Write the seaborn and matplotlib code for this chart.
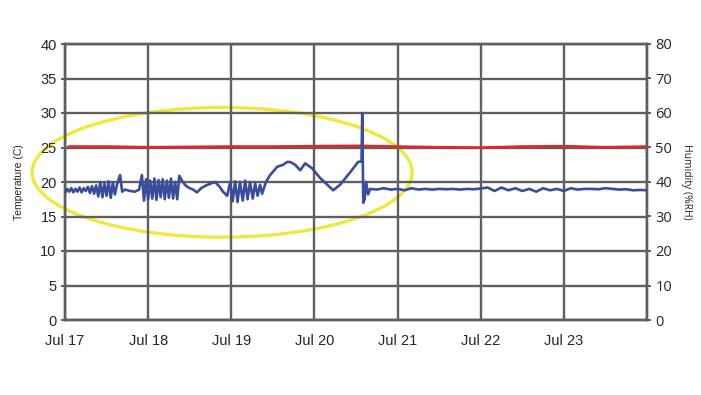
import numpy as np
import pandas as pd
import matplotlib
matplotlib.use("Agg")
import matplotlib.pyplot as plt
import matplotlib.dates as mdates
from matplotlib.patches import Ellipse
import seaborn as sns

START = pd.Timestamp("2019-07-17")

# temperature (red, left axis) - hours since Jul 17 00:00
temp_hours = [1, 12, 24, 36, 48, 60, 72, 84, 96, 108, 120, 132, 144, 156, 168]
temp_values = [25.15, 25.15, 25.05, 25.1, 25.15, 25.15, 25.2, 25.25, 25.15, 25.05,
               25.0, 25.15, 25.2, 25.05, 25.15]

# humidity (blue, right axis) - hours since Jul 17 00:00
hum_hours = [
    0, 0.6, 1.2, 1.8, 2.4, 3.0, 3.6, 4.2, 4.8, 5.4, 6.0, 6.6, 7.2, 7.8, 8.4,
    9.0, 9.6, 10.2, 10.8, 11.4, 12.0, 12.6, 13.2, 13.8, 14.4, 15.0, 15.9, 16.5,
    17.3, 18.8, 20.2, 21.4, 22.2, 22.8,
    23.4, 24.0, 24.6, 25.2, 25.8, 26.4, 27.0, 27.6, 28.2, 28.8, 29.4, 30.0,
    30.6, 31.2, 31.8, 32.4, 33.0,
    34.0, 35.0, 36.0, 37.0, 38.1, 39.3, 40.7, 42.2, 43.3, 44.5, 45.6, 46.8, 47.7,
    48.4, 49.1, 49.8, 50.5, 51.3, 52.0, 52.7, 53.4, 54.2, 54.9, 55.6, 56.3, 56.9,
    58.0, 59.2, 60.4, 61.2, 63.0, 64.1, 65.0, 66.4, 67.9, 69.3, 71.3, 73.6,
    75.1, 77.4, 79.4, 82.3, 84.6, 85.6, 85.8, 86.1, 86.5, 86.9, 87.5, 88.1,
    90, 92, 94, 96, 98, 100, 102, 104, 106, 108, 110, 112, 114, 116, 118, 120,
    122, 124, 126, 128, 130, 132, 134, 136, 138, 140, 142, 144, 146, 148, 150,
    152, 154, 156, 158, 160, 162, 164, 166, 168,
]
hum_values = [
    36.8, 38.0, 37.2, 38.2, 37.0, 38.0, 37.2, 38.4, 37.0, 38.2, 37.4, 38.6, 36.8, 38.8, 36.6,
    39.0, 35.8, 40.0, 35.6, 39.6, 36.0, 40.2, 35.4, 39.8, 36.4, 39.2, 42.0, 37.2,
    37.8, 37.4, 37.2, 37.8, 42.0, 34.6,
    40.8, 35.0, 40.4, 35.2, 41.0, 34.8, 40.6, 35.6, 40.8, 35.0, 40.4, 35.4,
    41.0, 35.2, 40.0, 35.0, 41.8,
    40.0, 38.8, 38.2, 37.8, 37.0, 38.2, 39.0, 39.6, 40.0, 38.8, 37.2, 36.0, 40.0,
    34.4, 40.2, 34.2, 40.0, 34.6, 40.4, 35.0, 40.0, 35.2, 39.6, 36.0, 39.2, 36.6,
    40.0, 42.0, 43.4, 44.4, 45.0, 45.8, 45.8, 45.0, 43.4, 45.4, 44.0, 41.2,
    39.8, 37.6, 39.2, 42.8, 45.8, 46.0, 60.0, 34.0, 35.0, 40.0, 36.4, 38.0,
    37.8, 38.2, 37.8, 38.0, 37.6, 38.2, 37.8, 38.0, 37.8, 38.0, 37.9, 38.0, 37.8, 38.0, 37.9, 38.1,
    38.4, 37.4, 38.4, 37.6, 38.2, 37.4, 38.0, 37.2, 38.2, 37.6, 38.0, 37.4, 38.2, 37.8, 38.0,
    38.0, 37.9, 38.2, 38.0, 37.8, 37.9, 37.6, 37.7, 37.6,
]

temp_ticks = [0, 5, 10, 15, 20, 25, 30, 35, 40]
hum_ticks = [0, 10, 20, 30, 40, 50, 60, 70, 80]

GRID = "#5f5f5f"
RED = "#e3262d"
BLUE = "#3a4c9c"
YELLOW = "#f0e83c"

sns.set_style("white")
plt.rcParams["font.family"] = ["Liberation Sans", "DejaVu Sans"]

temp_df = pd.DataFrame({"time": START + pd.to_timedelta(temp_hours, unit="h"),
                        "value": temp_values})
hum_df = pd.DataFrame({"time": START + pd.to_timedelta(hum_hours, unit="h"),
                       "value": hum_values})

fig = plt.figure(figsize=(7.01, 3.95), dpi=100)
ax = fig.add_axes([65 / 701, 75 / 395, 582 / 701, 276 / 395])
ax2 = ax.twinx()

sns.lineplot(data=temp_df, x="time", y="value", ax=ax, color=RED,
             linewidth=1.8, estimator=None, sort=False, zorder=4)
sns.lineplot(data=hum_df, x="time", y="value", ax=ax2, color=BLUE,
             linewidth=1.9, estimator=None, sort=False, zorder=4)

# highlight ellipse, runs past the axes; kept under grid and tick labels
x0 = mdates.date2num(START)
ax.add_patch(Ellipse((x0 + 1.89, 21.4), 4.57, 18.8, fill=False,
                     edgecolor=YELLOW, linewidth=2.4, zorder=0.4, clip_on=False))

ax.set_xlim(START, START + pd.Timedelta(days=7))
ax.set_ylim(0, 40)
ax2.set_ylim(0, 80)
ax.set_yticks(temp_ticks)
ax2.set_yticks(hum_ticks)

ax.xaxis.set_major_locator(mdates.DayLocator())
ax.xaxis.set_major_formatter(mdates.DateFormatter("%b %d"))
for lab in ax.get_xticklabels():
    if lab.get_text() == "Jul 24":
        lab.set_visible(False)

ax.grid(True, color=GRID, linewidth=1.7)
ax.set_axisbelow(True)
ax2.grid(False)
for a in (ax, ax2):
    for sp in a.spines.values():
        sp.set_color(GRID)
        sp.set_linewidth(1.7)

ax.tick_params(axis="y", length=3, width=1.4, color=GRID, labelsize=10.5, pad=3)
ax.tick_params(axis="x", length=0, labelsize=10.5, pad=10)
ax2.tick_params(axis="y", length=3, width=1.4, color=GRID, labelsize=10.5, pad=3)
for lab in ax2.get_yticklabels():
    lab.set_fontfamily(["Open Sans", "DejaVu Sans"])

ax.set_xlabel("")
ax.set_ylabel("Temperature (C)", fontsize=7.5, labelpad=12)
ax2.set_ylabel("Humidity (%RH)", fontsize=7.5, rotation=270, labelpad=14,
               fontfamily=["Open Sans", "DejaVu Sans"])

fig.savefig("out.png", dpi=100)
